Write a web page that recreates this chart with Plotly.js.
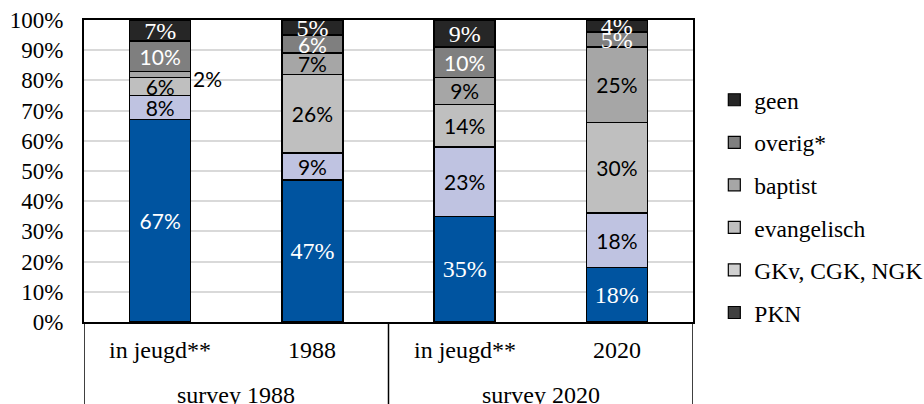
<!DOCTYPE html>
<html>
<head>
<meta charset="utf-8">
<script src="https://cdn.plot.ly/plotly-3.0.1.min.js"></script>
<style>html,body{margin:0;padding:0;background:#fff;}#chart{width:924px;height:404px;}</style>
</head>
<body>
<div id="chart"></div>
<script>
const surveys = ["survey 1988","survey 1988","survey 2020","survey 2020"];
const periods = ["in jeugd**","1988","in jeugd**","2020"];
const surveyGroups = ["survey 1988","survey 2020"];
const PKN = [67,47,35,18];
const GKv = [8,9,23,18];
const evangelisch = [6,26,14,30];
const baptist = [2,7,9,25];
const overig = [10,6,10,5];
const geen = [7,5,9,4];
const seriesNames = ["PKN","GKv, CGK, NGK","evangelisch","baptist","overig*","geen"];

const SERIF = "Liberation Serif";
const SANS = "Lato";

const x = [surveys, periods];
const barColors = ["#0054A0","#BFC3E1","#BFBFBF","#A6A6A6","#7F7F7F","#262626"];
const legendColors = ["#404040","#D0D0D0","#BFBFBF","#A6A6A6","#7F7F7F","#262626"];
const values = [PKN, GKv, evangelisch, baptist, overig, geen];
const labelColors = [
  ["white","white","white","white"],
  ["black","black","black","black"],
  ["black","black","black","black"],
  ["black","black","black","black"],
  ["white","white","white","white"],
  ["white","white","white","white"]
];
const labelFonts = [
  [SANS,SERIF,SERIF,SERIF],
  [SANS,SANS,SANS,SANS],
  [SANS,SANS,SANS,SANS],
  [SANS,SANS,SANS,SANS],
  [SANS,SANS,SANS,SERIF],
  [SERIF,SERIF,SERIF,SERIF]
];
const labelSizes = labelFonts.map(r => r.map(f => f === SERIF ? 24 : 21));

const traces = [];
values.forEach((v, i) => {
  const tp = v.map(val => (val <= 2 ? "none" : "inside"));
  traces.push({
    type: "bar",
    name: seriesNames[i],
    x: x,
    y: v,
    marker: {color: barColors[i], line: {color: "#000", width: 1.6}},
    text: v.map(val => val + "%"),
    texttemplate: "%{text}",
    textposition: tp,
    insidetextanchor: "middle",
    textangle: 0,
    constraintext: "none",
    cliponaxis: false,
    textfont: {color: labelColors[i], family: labelFonts[i], size: labelSizes[i]},
    showlegend: false,
    hoverinfo: "skip"
  });
});
// legend entries (reference legend uses greyscale swatches)
values.forEach((v, i) => {
  traces.push({
    type: "bar",
    name: seriesNames[i],
    x: [[surveys[0]],[periods[0]]],
    y: [0],
    marker: {color: legendColors[i], line: {color: "#000", width: 1.2}},
    legendgroup: "g" + i,
    legendrank: values.length - i,
    showlegend: true,
    hoverinfo: "skip",
    textposition: "none"
  });
});

const annotations = [];
// outside label for tiny segments
values.forEach((v, i) => {
  v.forEach((val, j) => {
    if (val <= 2) {
      let base = 0;
      for (let k = 0; k < i; k++) base += values[k][j];
      annotations.push({
        xref: "x", yref: "y", x: j, y: base + val / 2,
        text: val + "%", showarrow: false, xanchor: "left",
        xshift: 31, yshift: -4,
        font: {family: SANS, size: 21, color: "#000"}
      });
    }
  });
});
// category labels (two levels)
periods.forEach((p, j) => {
  annotations.push({
    xref: "x", yref: "paper", x: j, y: -0.094, yanchor: "middle",
    text: p, showarrow: false,
    font: {family: SERIF, size: 24, color: "#000"}
  });
});
surveyGroups.forEach((g, k) => {
  annotations.push({
    xref: "x", yref: "paper", x: 2 * k + 0.5, y: -0.243, yanchor: "middle",
    text: g, showarrow: false,
    font: {family: SERIF, size: 24, color: "#000"}
  });
});
// dividers of category table
const shapes = [-0.5, 1.5, 3.5].map(xv => ({
  type: "line", xref: "x", yref: "paper",
  x0: xv, x1: xv, y0: 0, y1: -0.28,
  line: {color: "#000", width: 1.5}
}));

const layout = {
  width: 924, height: 404,
  margin: {l: 84, r: 231, t: 20, b: 82, autoexpand: false},
  barmode: "stack",
  bargap: 0.6,
  paper_bgcolor: "#fff",
  plot_bgcolor: "#fff",
  font: {family: SERIF, size: 23, color: "#000"},
  xaxis: {
    type: "multicategory",
    range: [-0.5, 3.5],
    showline: true, linecolor: "#000", linewidth: 2, mirror: true,
    showgrid: false,
    showdividers: false,
    showticklabels: false,
    ticks: ""
  },
  yaxis: {
    range: [0, 100],
    dtick: 10,
    ticksuffix: "%",
    showline: true, linecolor: "#000", linewidth: 2, mirror: true,
    gridcolor: "#D9D9D9", gridwidth: 2,
    zeroline: false,
    tickfont: {family: SERIF, size: 23, color: "#000"},
    ticklabelstandoff: 14,
    ticks: ""
  },
  legend: {
    x: 1.035, xanchor: "left", y: 0.808, yanchor: "top",
    traceorder: "grouped", tracegroupgap: 9,
    itemwidth: 30,
    font: {family: SERIF, size: 23.5, color: "#000"},
    bgcolor: "rgba(0,0,0,0)"
  },
  annotations: annotations,
  shapes: shapes
};

Plotly.newPlot("chart", traces, layout, {displayModeBar: false, staticPlot: true});
</script>
</body>
</html>
